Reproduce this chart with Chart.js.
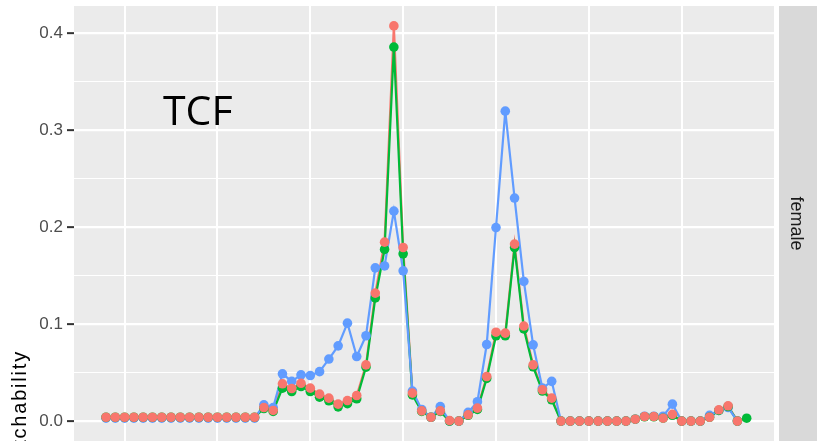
<!DOCTYPE html>
<html>
<head>
<meta charset="utf-8">
<script src="https://cdn.jsdelivr.net/npm/chart.js@4"></script>
<style>
  html, body { margin: 0; padding: 0; background: #ffffff; }
  canvas { display: block; }
</style>
</head>
<body>
<canvas id="c" width="817" height="441"></canvas>
<script>
// ---- data ----
const xPositions = [0,1,2,3,4,5,6,7,8,9,10,11,12,13,14,15,16,17,18,19,20,21,22,23,24,25,26,27,28,29,30,31,32,33,34,35,36,37,38,39,40,41,42,43,44,45,46,47,48,49,50,51,52,53,54,55,56,57,58,59,60,61,62,63,64,65,66,67,68,69];

const redValues = [0.004,0.004,0.004,0.004,0.004,0.004,0.004,0.004,0.004,0.004,0.004,0.004,0.004,0.004,0.004,0.004,0.004,
  0.014,0.011,0.0385,0.0336,0.039,0.034,0.0278,0.0237,0.0175,0.0212,0.0264,0.058,0.132,0.1845,0.4075,0.179,0.0289,0.0106,0.004,0.0106,0.0005,0.0,
  0.0065,0.0134,0.046,0.0917,0.0907,0.1825,0.098,0.058,0.0323,0.0237,
  0,0,0,0,0,0,0,0,0.002,0.0047,0.0047,0.003,0.007,0,0,0,0.004,0.0117,0.0158,0,null];

const greenValues = [0.004,0.004,0.004,0.004,0.004,0.004,0.004,0.004,0.004,0.004,0.004,0.004,0.004,0.004,0.004,0.004,0.004,
  0.013,0.010,0.034,0.0305,0.0357,0.0305,0.0247,0.021,0.0147,0.018,0.023,0.0557,0.127,0.177,0.3856,0.1725,0.027,0.010,0.004,0.010,0.0,0.0,
  0.006,0.012,0.044,0.088,0.088,0.179,0.095,0.056,0.031,0.022,
  0,0,0,0,0,0,0,0,0.002,0.0045,0.0045,0.003,0.006,0,0,0,0.004,0.011,0.015,0,0.003];

const blueValues = [0.003,0.003,0.003,0.003,0.003,0.003,0.003,0.003,0.003,0.003,0.003,0.003,0.003,0.003,0.003,0.003,0.003,
  0.0168,0.014,0.0488,0.041,0.0477,0.047,0.051,0.064,0.0776,0.101,0.0666,0.088,0.158,0.160,0.2165,0.155,0.031,0.012,0.004,0.015,0.0,0.0,
  0.009,0.020,0.079,0.1996,0.3196,0.230,0.144,0.0787,0.034,0.041,
  0,0,0,0,0,0,0,0,0.002,0.005,0.005,0.005,0.0175,0,0,0,0.006,0.011,0.014,0,null];

const yTickValues = [0, 0.05, 0.1, 0.15, 0.2, 0.25, 0.3, 0.35, 0.4];
const yMajorTicks = [0, 0.1, 0.2, 0.3, 0.4];
const yTickLabels = ['0.0', '0.1', '0.2', '0.3', '0.4'];
const xGridValues = [2, 12, 22, 32, 42, 52, 62, 72];

const annotationText = 'TCF';
const stripLabel = 'female';
const yAxisTitle = 'tchability';

const RED = '#F8766D', GREEN = '#00BA38', BLUE = '#619CFF';

function pts(vals) { return xPositions.map((x, i) => ({ x: x, y: vals[i] })); }
function isMajor(v) { return yMajorTicks.some(m => Math.abs(m - v) < 1e-9); }

const pointStyle = (color, order) => ({
  data: null, showLine: false, pointRadius: 4.8, pointHoverRadius: 4.8,
  pointBackgroundColor: color, pointBorderWidth: 0, borderColor: color, order: order
});
const lineStyle = (color, order) => ({
  data: null, showLine: true, pointRadius: 0, borderColor: color, borderWidth: 2.2,
  backgroundColor: color, fill: false, tension: 0, spanGaps: false, order: order
});

const datasets = [
  Object.assign(pointStyle(RED, 1), { data: pts(redValues) }),
  Object.assign(pointStyle(GREEN, 2), { data: pts(greenValues) }),
  Object.assign(pointStyle(BLUE, 3), { data: pts(blueValues) }),
  Object.assign(lineStyle(BLUE, 4), { data: pts(blueValues) }),
  Object.assign(lineStyle(GREEN, 5), { data: pts(greenValues) }),
  Object.assign(lineStyle(RED, 6), { data: pts(redValues) })
];

const decor = {
  id: 'decor',
  beforeDraw(chart) {
    const { ctx, chartArea: a } = chart;
    ctx.save();
    ctx.fillStyle = '#EBEBEB';
    ctx.fillRect(a.left, a.top, a.right - a.left, a.bottom - a.top);
    // facet strip
    ctx.fillStyle = '#D9D9D9';
    ctx.fillRect(a.right + 4, a.top, chart.width - a.right - 4, a.bottom - a.top);
    ctx.restore();
  },
  afterDraw(chart) {
    const { ctx, chartArea: a } = chart;
    const ys = chart.scales.y;

    // y tick marks and labels
    ctx.save();
    ctx.fillStyle = '#333333';
    yMajorTicks.forEach((v) => {
      const py = ys.getPixelForValue(v);
      ctx.fillRect(a.left - 7, py - 1, 7, 2);
    });
    ctx.fillStyle = '#4D4D4D';
    ctx.font = '17px "Liberation Sans", Arial, sans-serif';
    ctx.textAlign = 'right';
    ctx.textBaseline = 'middle';
    yMajorTicks.forEach((v, i) => {
      ctx.fillText(yTickLabels[i], a.left - 11, ys.getPixelForValue(v) + 0.5);
    });
    ctx.restore();

    // strip label
    ctx.save();
    ctx.fillStyle = '#1A1A1A';
    ctx.font = '18px "Liberation Sans", Arial, sans-serif';
    ctx.textAlign = 'center';
    ctx.textBaseline = 'alphabetic';
    ctx.translate(791, (a.top + a.bottom) / 2);
    ctx.rotate(Math.PI / 2);
    ctx.fillText(stripLabel, 0, 0);
    ctx.restore();

    // y axis title (partially visible)
    ctx.save();
    ctx.fillStyle = '#000000';
    ctx.font = '20px "Liberation Sans", Arial, sans-serif';
    try { ctx.letterSpacing = '1.8px'; } catch (e) {}
    ctx.textAlign = 'right';
    ctx.textBaseline = 'alphabetic';
    ctx.translate(26, 350);
    ctx.rotate(-Math.PI / 2);
    ctx.fillText(yAxisTitle, 0, 0);
    ctx.restore();

    // annotation
    ctx.save();
    ctx.fillStyle = '#000000';
    ctx.font = '41px "Open Sans", "Noto Sans", sans-serif';
    ctx.textAlign = 'left';
    ctx.textBaseline = 'alphabetic';
    ctx.fillText(annotationText, 163, 125);
    ctx.restore();
  }
};

new Chart(document.getElementById('c'), {
  type: 'scatter',
  data: { datasets: datasets },
  options: {
    responsive: false,
    animation: false,
    devicePixelRatio: 1,
    layout: { autoPadding: false, padding: { top: 6, right: 42, bottom: 0, left: 0 } },
    plugins: { legend: { display: false }, tooltip: { enabled: false } },
    events: [],
    scales: {
      x: {
        type: 'linear',
        min: -3.45,
        max: 72.05,
        border: { display: false },
        ticks: { display: false },
        grid: { color: '#FFFFFF', lineWidth: 2, drawTicks: false },
        afterBuildTicks: (s) => { s.ticks = xGridValues.map(v => ({ value: v })); },
        afterFit: (s) => { s.height = 0; }
      },
      y: {
        type: 'linear',
        min: -0.0205,
        max: 0.428,
        border: { display: false },
        afterBuildTicks: (s) => { s.ticks = yTickValues.map(v => ({ value: v })); },
        afterFit: (s) => { s.width = 74; },
        ticks: { display: false },
        grid: {
          color: '#FFFFFF',
          lineWidth: (c) => (c.tick && isMajor(c.tick.value)) ? 2.2 : 1.1,
          drawTicks: false
        }
      }
    }
  },
  plugins: [decor]
});
</script>
</body>
</html>
